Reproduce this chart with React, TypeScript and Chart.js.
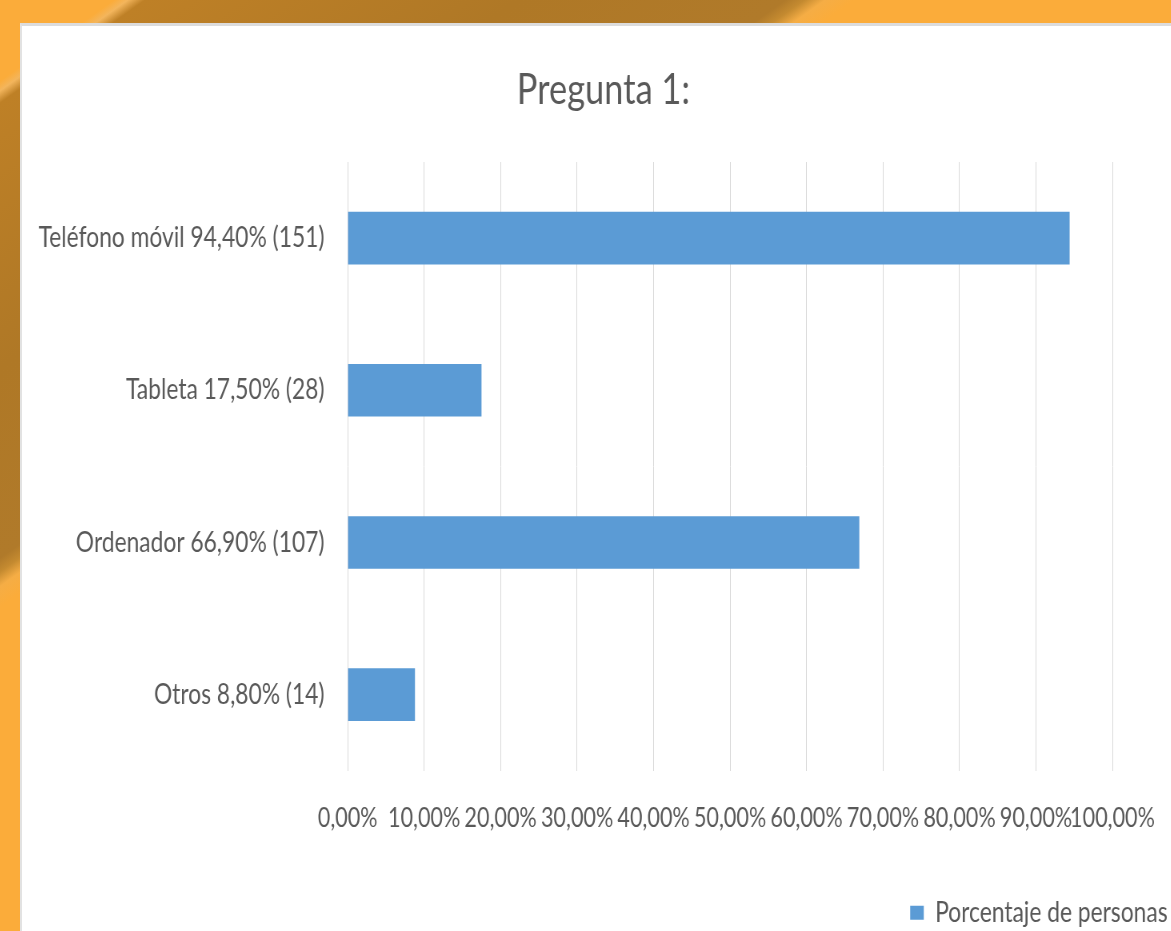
import React, { useEffect, useRef } from "react";
import { Chart, registerables } from "chart.js";

Chart.register(...registerables);

const categories: string[] = [
  "Teléfono móvil 94,40% (151)",
  "Tableta 17,50% (28)",
  "Ordenador 66,90% (107)",
  "Otros 8,80% (14)",
];
const seriesName = "Porcentaje de personas";
const seriesValues: number[] = [94.4, 17.5, 66.9, 8.8];
const xTickMin = 0;
const xTickMax = 100;
const xTickStep = 10;
const titleText = "Pregunta 1:";

const FONT = "Lato, 'DejaVu Sans', sans-serif";
const TEXT = "#595959";
const SX = 0.8; // horizontal compression of the whole drawing
const CW = 1436;
const CH = 911;

export default function App() {
  const ref = useRef<HTMLCanvasElement | null>(null);

  useEffect(() => {
    if (!ref.current) return;
    const chart = new Chart(ref.current, {
      type: "bar",
      data: {
        labels: categories,
        datasets: [
          {
            label: seriesName,
            data: seriesValues,
            backgroundColor: "#5B9BD5",
            borderWidth: 0,
            barPercentage: 1,
            categoryPercentage: 0.3456,
          },
        ],
      },
      options: {
        indexAxis: "y",
        responsive: false,
        animation: false,
        layout: { padding: { left: 17.5, right: 0, top: 0, bottom: 0 } },
        plugins: {
          title: {
            display: true,
            text: titleText,
            color: TEXT,
            font: { family: FONT, size: 43, weight: "normal", lineHeight: 1.2 },
            padding: { top: 38.2, bottom: 46.2 },
          },
          legend: {
            display: true,
            position: "bottom",
            align: "end",
            labels: {
              boxWidth: 17,
              boxHeight: 14,
              padding: 4,
              color: TEXT,
              font: { family: FONT, size: 28.5, lineHeight: 1.2 },
            },
          },
          tooltip: { enabled: false },
        },
        scales: {
          x: {
            type: "linear",
            min: xTickMin,
            max: xTickMax,
            grid: { color: "#D9D9D9", lineWidth: 1, drawTicks: false },
            border: { display: false },
            ticks: {
              stepSize: xTickStep,
              autoSkip: false,
              maxRotation: 0,
              padding: 31,
              color: TEXT,
              font: { family: FONT, size: 27, lineHeight: 1.2 },
              callback: (v: any) => Number(v).toFixed(2).replace(".", ",") + "%",
            },
            afterFit: (s: any) => {
              s.height = 123.8;
              s.paddingLeft = 0;
              s.paddingRight = 72.9;
            },
          },
          y: {
            type: "category",
            grid: { display: false },
            border: { display: false },
            ticks: {
              padding: 21,
              color: TEXT,
              font: { family: FONT, size: 28.5, lineHeight: 1.2 },
            },
            afterFit: (s: any) => {
              s.width = 389.6;
            },
          },
        },
      },
    } as any);
    return () => chart.destroy();
  }, []);

  return (
    <div
      style={{
        position: "fixed",
        left: 0,
        top: 0,
        width: 1171,
        height: 931,
        overflow: "hidden",
        background:
          "linear-gradient(144.6deg, #FBAC3A 0px, #FBAC3A 66px, #F3B55C 74px, #BE8026 84px, #AF7826 300px, #B07A2A 455px, #C48A30 466px, #F5AD45 478px, #FBAC3A 495px, #FBAC3A 1500px)",
      }}
    >
      <div
        style={{
          position: "absolute",
          left: 20,
          top: 23,
          right: 0,
          bottom: 0,
          background: "#ffffff",
          borderTop: "3px solid #DCDCDC",
          borderLeft: "2px solid #E2E2E2",
        }}
      />
      <canvas
        ref={ref}
        width={CW}
        height={CH}
        style={{
          position: "absolute",
          left: 22,
          top: 26,
          width: CW,
          height: CH,
          transform: `scaleX(${SX})`,
          transformOrigin: "left top",
        }}
      />
    </div>
  );
}
